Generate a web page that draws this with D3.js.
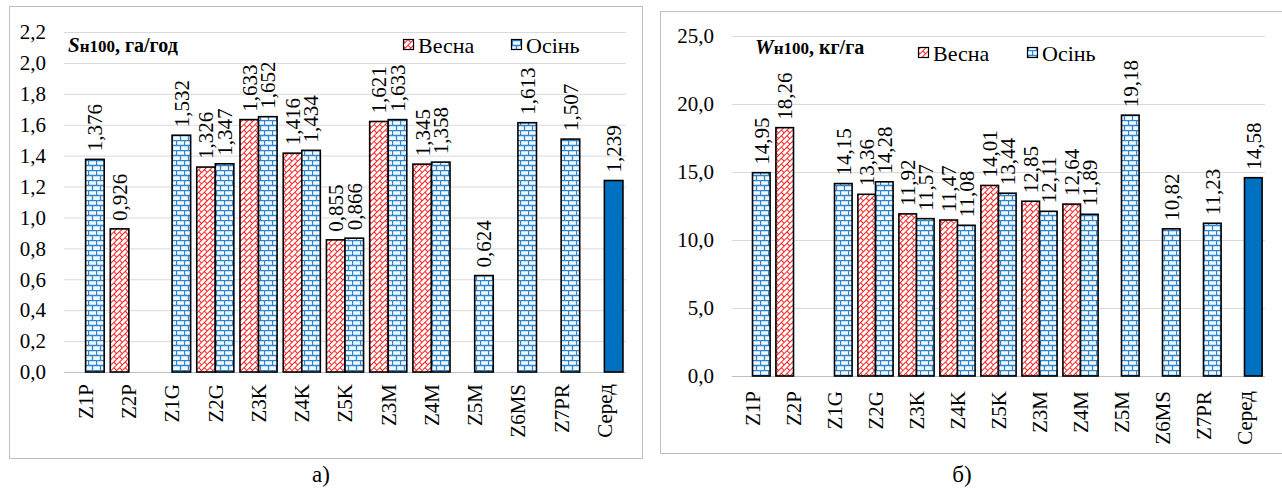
<!DOCTYPE html>
<html>
<head>
<meta charset="utf-8">
<script src="https://cdn.jsdelivr.net/npm/d3@7"></script>
<style>
	body { margin: 0; background: #fff; }
	svg { display: block; }
	svg text { font-family: 'Liberation Serif', 'DejaVu Serif', serif; }
</style>
</head>
<body>
<svg width="1282" height="490"></svg>
<script>
'use strict';

// chart values
var categories = ["Z1P", "Z2P", "Z1G", "Z2G", "Z3K", "Z4K", "Z5K", "Z3M", "Z4M", "Z5M", "Z6MS", "Z7PR", "Серед"];
var seriesNames = ["Весна", "Осінь"];
var springS = [null, 0.926, null, 1.326, 1.633, 1.416, 0.855, 1.621, 1.345, null, null, null, null];
var autumnS = [1.376, null, 1.532, 1.347, 1.652, 1.434, 0.866, 1.633, 1.358, 0.624, 1.613, 1.507, 1.239];
var springW = [null, 18.26, null, 13.36, 11.92, 11.47, 14.01, 12.85, 12.64, null, null, null, null];
var autumnW = [14.95, null, 14.15, 14.28, 11.57, 11.08, 13.44, 12.11, 11.89, 19.18, 10.82, 11.23, 14.58];
var ticksS = [0, 0.2, 0.4, 0.6, 0.8, 1.0, 1.2, 1.4, 1.6, 1.8, 2.0, 2.2];
var ticksW = [0, 5, 10, 15, 20, 25];

var FONT = "'Liberation Serif', 'DejaVu Serif', serif";

document.addEventListener('DOMContentLoaded', function() {

	var svg = d3.select("svg");
	var defs = svg.append("defs");

	// horizontal brick pattern (autumn)
	var pb = defs.append("pattern")
		.attr("id", "brickBlue")
		.attr("patternUnits", "userSpaceOnUse")
		.attr("width", 8)
		.attr("height", 10);
	pb.append("rect").attr("width", 8).attr("height", 10).attr("fill", "#f4f9fd");
	pb.append("path")
		.attr("d", "M0 0.5H8M0 5.5H8M0.5 0.5V5.5M4.5 5.5V10")
		.attr("stroke", "#2e86d0")
		.attr("stroke-width", 1.3)
		.attr("fill", "none");

	// diagonal brick pattern (spring)
	var pr = defs.append("pattern")
		.attr("id", "brickRed")
		.attr("patternUnits", "userSpaceOnUse")
		.attr("width", 8)
		.attr("height", 8)
		.attr("patternTransform", "rotate(-45)");
	pr.append("rect").attr("width", 8).attr("height", 8).attr("fill", "#fff");
	pr.append("path")
		.attr("d", "M0 0.5H8M0 4.5H8M0.5 0.5V4.5M4.5 4.5V8")
		.attr("stroke", "#ff2020")
		.attr("stroke-width", 1)
		.attr("fill", "none");

	var fills = {"Весна": "url(#brickRed)", "Осінь": "url(#brickBlue)"};

	function fmt(v, digits) {
		return v.toFixed(digits).replace(".", ",");
	}

	function drawPanel(p) {
		var g = svg.append("g").attr("font-family", FONT);

		// frame
		g.append("rect")
			.attr("x", p.frame[0] + 0.5)
			.attr("y", p.frame[1] + 0.5)
			.attr("width", p.frame[2])
			.attr("height", p.frame[3])
			.attr("fill", "#fff")
			.attr("stroke", "#bfbfbf");

		var x0 = d3.scaleBand().domain(categories).range([p.left, p.right]);
		var x1 = d3.scaleBand().domain(seriesNames).range([0, x0.bandwidth()]).paddingOuter(0.165);
		var y = d3.scaleLinear().domain([0, p.ticks[p.ticks.length - 1]]).range([p.bottom, p.top]);

		// gridlines + y labels
		g.append("g")
			.attr("transform", "translate(" + p.left + ",0)")
			.call(d3.axisLeft(y).tickValues(p.ticks).tickSize(-(p.right - p.left)).tickPadding(p.left - p.tickX).tickFormat(function(d) { return fmt(d, 1); }))
			.call(function(a) {
				a.attr("font-family", FONT);
				a.select(".domain").remove();
				a.selectAll("line").attr("stroke", "#d9d9d9");
				a.selectAll("text")
					.attr("font-size", "21px")
					.attr("font-family", FONT)
					.attr("fill", "#000");
			});

		// zero line
		g.append("line")
			.attr("x1", p.left).attr("x2", p.right)
			.attr("y1", y(0) + 0.5).attr("y2", y(0) + 0.5)
			.attr("stroke", "#bfbfbf");

		// category labels
		g.selectAll(".cat")
			.data(categories)
			.enter().append("text")
				.attr("class", "cat")
				.attr("transform", function(d) { return "translate(" + (x0(d) + x0.bandwidth() / 2) + "," + (p.bottom + p.catGap) + ") rotate(-90)"; })
				.attr("text-anchor", "end")
				.attr("dy", "0.35em")
				.attr("font-family", FONT)
				.attr("font-size", "21px")
				.text(function(d) { return d; });

		// bars
		var rows = [];
		p.series.forEach(function(vals, si) {
			vals.forEach(function(v, i) {
				if (v !== null) rows.push({cat: categories[i], s: seriesNames[si], v: v});
			});
		});

		g.selectAll(".bar")
			.data(rows)
			.enter().append("rect")
				.attr("class", "bar")
				.attr("x", function(d) { return x0(d.cat) + x1(d.s); })
				.attr("y", function(d) { return y(d.v); })
				.attr("width", x1.bandwidth())
				.attr("height", function(d) { return y(0) - y(d.v); })
				.attr("fill", function(d) { return d.cat === "Серед" ? "#0070c0" : fills[d.s]; })
				.attr("stroke", "#000")
				.attr("stroke-width", 1.6);

		// value labels
		g.selectAll(".val")
			.data(rows)
			.enter().append("text")
				.attr("class", "val")
				.attr("transform", function(d) { return "translate(" + (x0(d.cat) + x1(d.s) + x1.bandwidth() / 2) + "," + (y(d.v) - 8) + ") rotate(-90)"; })
				.attr("dy", "0.35em")
				.attr("font-family", FONT)
				.attr("font-size", "21px")
				.text(function(d) { return fmt(d.v, p.digits); });

		// title
		var t = g.append("text")
			.attr("x", p.titleX)
			.attr("y", p.titleY)
			.attr("font-family", FONT)
			.attr("font-weight", "bold");
		t.append("tspan").attr("font-style", "italic").attr("font-size", "21px").text(p.title[0]);
		t.append("tspan").attr("font-size", "17px").text(p.title[1]);
		t.append("tspan").attr("font-size", "20px").text(p.title[2]);

		// legend
		seriesNames.forEach(function(name, i) {
			g.append("rect")
				.attr("x", p.legendX[i] + 0.5)
				.attr("y", p.legendY - 5.5)
				.attr("width", 10)
				.attr("height", 10)
				.attr("fill", fills[name])
				.attr("stroke", "#000")
				.attr("stroke-width", 1.2);
			g.append("text")
				.attr("x", p.legendX[i] + 15)
				.attr("y", p.legendY)
				.attr("dy", "0.35em")
				.attr("font-family", FONT)
				.attr("font-size", "22px")
				.text(name);
		});

		// caption
		svg.append("text")
			.attr("x", p.capX)
			.attr("y", 482)
			.attr("text-anchor", "middle")
			.attr("font-family", FONT)
			.attr("font-size", "23px")
			.text(p.caption);
	}

	drawPanel({
		frame: [9, 6, 633, 452],
		left: 64, right: 626, top: 32, bottom: 372,
		ticks: ticksS, tickX: 46, digits: 3, catGap: 12,
		series: [springS, autumnS],
		title: ["S", "н100", ", га/год"], titleX: 68, titleY: 52,
		legendX: [403, 511], legendY: 45,
		caption: "а)", capX: 321
	});

	drawPanel({
		frame: [660, 11, 622, 442],
		left: 732, right: 1265, top: 36, bottom: 376,
		ticks: ticksW, tickX: 714, digits: 2, catGap: 15,
		series: [springW, autumnW],
		title: ["W", "н100", ", кг/га"], titleX: 755, titleY: 54,
		legendX: [918, 1027], legendY: 53,
		caption: "б)", capX: 962
	});

});
</script>
</body>
</html>
